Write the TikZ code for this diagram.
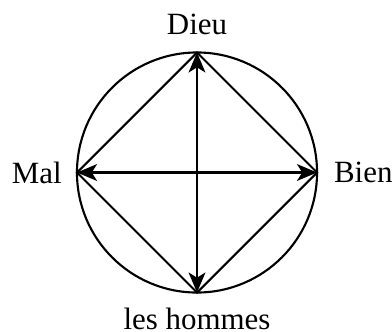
\documentclass[tikz,border=0pt]{standalone}
\usepackage{fontspec}
\setmainfont{Liberation Serif}
\usetikzlibrary{arrows.meta,positioning}

\tikzset{
  pole/.style={font=\fontsize{22}{26}\selectfont, inner sep=0pt},
  rim/.style={line width=1.5pt},
  side/.style={line width=1.5pt},
  axis/.style={line width=1.5pt,
    {Stealth[length=0.5cm,width=0.42cm,inset=0.13cm]}-{Stealth[length=0.5cm,width=0.42cm,inset=0.13cm]}}
}

\begin{document}
\begin{tikzpicture}[x=0.025cm,y=-0.025cm]
  \useasboundingbox (0,0) rectangle (392,331);

  % Circle
  \coordinate (centre) at (197,172.5);
  \draw[rim] (centre) circle[radius=3cm];

  % The four poles
  \coordinate (dieu)   at (197,52.5);
  \coordinate (bien)   at (317,172.5);
  \coordinate (hommes) at (197,292.5);
  \coordinate (mal)    at (77,172.5);

  \node[pole, above=0.44cm of dieu]    (dieulbl)   {Dieu};
  \node[pole, right=0.42cm of bien]    (bienlbl)   {Bien};
  \node[pole, below=0.38cm of hommes]  (hommeslbl) {les hommes};
  \node[pole, left=0.375cm of mal]     (mallbl)    {Mal};

  % Square
  \draw[side] (dieu) -- (bien) -- (hommes) -- (mal) -- cycle;

  % Axes
  \draw[axis] (dieu) -- (hommes);
  \draw[axis] (mal) -- (bien);
\end{tikzpicture}
\end{document}
